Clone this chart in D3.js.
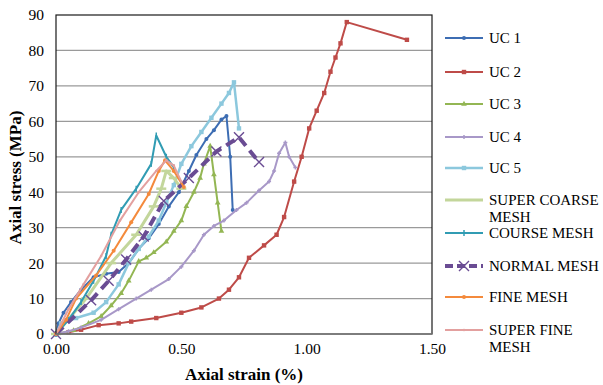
<!DOCTYPE html>
<html>
<head>
<meta charset="utf-8">
<script src="https://cdn.jsdelivr.net/npm/d3@7"></script>
<style>
  body { margin: 0; background: #fff; }
  svg text { font-family: 'Times New Roman', Times, 'Liberation Serif', serif; }
</style>
</head>
<body>
<div id="chart"></div>
<script>
// stress-strain data: [strain %, stress MPa]
const uc1 = [[0,0],[0.01,3],[0.03,6],[0.06,9],[0.1,12.5],[0.15,16],[0.2,17],[0.25,17.5],[0.29,20],[0.33,24],[0.37,27],[0.41,31],[0.45,36],[0.49,40],[0.53,46],[0.56,50.5],[0.6,55],[0.63,57.5],[0.66,60.5],[0.68,61.5],[0.695,50],[0.705,35]];
const uc2 = [[0,0],[0.05,0.5],[0.1,1.2],[0.17,2.5],[0.25,3],[0.3,3.5],[0.4,4.5],[0.5,6],[0.58,7.5],[0.65,10],[0.69,12.5],[0.73,16],[0.77,21.5],[0.83,25],[0.88,28],[0.91,33],[0.95,43],[0.98,50],[1.01,58],[1.04,63],[1.07,68],[1.095,74],[1.115,78],[1.135,82],[1.16,88],[1.4,83]];
const uc3 = [[0,0],[0.07,1],[0.13,3],[0.18,5],[0.22,8],[0.26,11.5],[0.29,15],[0.33,20.5],[0.36,21.5],[0.39,23],[0.44,26],[0.47,29],[0.5,32],[0.52,36],[0.55,40],[0.575,44],[0.59,48],[0.615,53],[0.63,45],[0.645,37],[0.66,29]];
const uc4 = [[0,0],[0.05,0.8],[0.1,1.8],[0.18,4],[0.25,7],[0.32,10],[0.38,12.5],[0.45,15.5],[0.5,19],[0.55,23.5],[0.59,28],[0.63,30.5],[0.67,32],[0.72,35],[0.76,37],[0.81,40.5],[0.85,43],[0.87,46],[0.89,51],[0.915,54],[0.93,50],[0.955,47]];
const uc5 = [[0,0],[0.02,3],[0.08,4.5],[0.15,6],[0.2,9],[0.25,14],[0.29,20],[0.33,24],[0.37,27.5],[0.41,32],[0.44,37],[0.47,42],[0.5,48],[0.54,53],[0.58,57],[0.62,61],[0.66,65],[0.69,68],[0.71,71],[0.73,58]];
const superCoarse = [[0,0],[0.12,10],[0.22,20],[0.32,28],[0.39,36],[0.42,41],[0.44,46],[0.47,44],[0.5,41]];
const courseMesh = [[0,0],[0.05,4],[0.1,9],[0.15,15],[0.2,22],[0.22,28],[0.26,35],[0.32,41],[0.38,48],[0.4,56],[0.44,50],[0.47,47]];
const normalMesh = [[0,0],[0.14,9.5],[0.21,15],[0.28,21],[0.35,27.5],[0.43,37.5],[0.53,44],[0.64,51.5],[0.73,55.5],[0.81,48.5]];
const fineMesh = [[0,0],[0.04,4],[0.08,10],[0.16,16.5],[0.23,23.5],[0.3,31.5],[0.37,39.5],[0.41,46],[0.435,49],[0.47,46],[0.51,41.5]];
const superFine = [[0,0],[0.05,7],[0.11,14],[0.18,22],[0.255,32],[0.33,40],[0.4,46],[0.44,49],[0.47,47.5],[0.5,43]];

const seriesNames = ['UC 1','UC 2','UC 3','UC 4','UC 5','SUPER COARSE MESH','COURSE MESH','NORMAL MESH','FINE MESH','SUPER FINE MESH'];
const xTicks = [0, 0.5, 1.0, 1.5];
const yTicks = [0,10,20,30,40,50,60,70,80,90];

const series = [
  { name: seriesNames[0], data: uc1, color: '#3d6db3', w: 2, marker: 'circle' },
  { name: seriesNames[1], data: uc2, color: '#be4b48', w: 2, marker: 'square' },
  { name: seriesNames[2], data: uc3, color: '#93b653', w: 2, marker: 'triangle' },
  { name: seriesNames[3], data: uc4, color: '#a898c8', w: 2, marker: 'plus' },
  { name: seriesNames[4], data: uc5, color: '#8cc8dd', w: 2.5, marker: 'square' },
  { name: seriesNames[5], data: superCoarse, color: '#c3d69b', w: 3, marker: 'hbar' },
  { name: seriesNames[6], data: courseMesh, color: '#319cb3', w: 2, marker: 'vbar' },
  { name: seriesNames[7], data: normalMesh, color: '#6a4c93', w: 4, marker: 'x', dash: '10,6' },
  { name: seriesNames[8], data: fineMesh, color: '#f48a3c', w: 2, marker: 'circle' },
  { name: seriesNames[9], data: superFine, color: '#e3a09f', w: 2, marker: 'dot' }
];

const width = 603, height = 385;
const margin = { top: 15, left: 56, right: 171, bottom: 51 };
const iw = width - margin.left - margin.right;
const ih = height - margin.top - margin.bottom;

const svg = d3.select('#chart').append('svg')
  .attr('width', width).attr('height', height);

const x = d3.scaleLinear().domain([0, 1.5]).range([0, iw]);
const y = d3.scaleLinear().domain([0, 90]).range([ih, 0]);

const g = svg.append('g').attr('transform', `translate(${margin.left},${margin.top})`);

// gridlines
g.append('g').selectAll('line').data(yTicks.slice(1, -1)).enter().append('line')
  .attr('x1', 0).attr('x2', iw)
  .attr('y1', d => y(d)).attr('y2', d => y(d))
  .style('stroke', '#9a9a9a').style('stroke-width', 1.2);

// axes
const yAxis = g.append('g')
  .call(d3.axisLeft(y).tickValues(yTicks).tickSize(0).tickPadding(12));
const xAxis = g.append('g').attr('transform', `translate(0,${ih})`)
  .call(d3.axisBottom(x).tickValues(xTicks).tickFormat(d3.format('.2f')).tickSize(0).tickPadding(9));
[xAxis, yAxis].forEach(a => {
  a.attr('font-size', 15.5);
  a.select('.domain').remove();
  a.selectAll('text').attr('fill', '#000');
});

const line = d3.line().x(d => x(d[0])).y(d => y(d[1]));

function drawMarker(sel, type, color) {
  const s = 2.2;
  if (type === 'circle' || type === 'dot') {
    sel.append('circle').attr('r', type === 'dot' ? 1.3 : 2).style('fill', color);
  } else if (type === 'square') {
    sel.append('rect').attr('x', -s).attr('y', -s).attr('width', 2 * s).attr('height', 2 * s).style('fill', color);
  } else if (type === 'triangle') {
    sel.append('path').attr('d', d3.symbol(d3.symbolTriangle, 14)()).style('fill', color);
  } else if (type === 'plus') {
    sel.append('path').attr('d', 'M-2,0H2M0,-2V2').style('stroke', color).style('stroke-width', 1.5);
  } else if (type === 'hbar') {
    sel.append('path').attr('d', 'M-5,0H5').style('stroke', color).style('stroke-width', 2.5);
  } else if (type === 'vbar') {
    sel.append('path').attr('d', 'M0,-3V3').style('stroke', color).style('stroke-width', 1.5);
  } else if (type === 'x') {
    sel.append('path').attr('d', 'M-5,-5L5,5M-5,5L5,-5').style('stroke', color).style('stroke-width', 1.4);
  }
}

series.forEach(s => {
  const sg = g.append('g');
  sg.append('path').datum(s.data)
    .attr('d', line)
    .style('fill', 'none')
    .style('stroke', s.color)
    .style('stroke-width', s.w)
    .style('stroke-dasharray', s.dash || null)
    .style('stroke-linejoin', 'round');
  sg.selectAll('.m').data(s.data).enter().append('g')
    .attr('class', 'm')
    .attr('transform', d => `translate(${x(d[0])},${y(d[1])})`)
    .each(function() { drawMarker(d3.select(this), s.marker, s.color); });
});

// plot frame
g.append('rect').attr('x', 0).attr('y', 0).attr('width', iw).attr('height', ih)
  .style('fill', 'none').style('stroke', '#1a1a1a').style('stroke-width', 1.2);
g.append('line').attr('x1', 0).attr('x2', iw).attr('y1', ih).attr('y2', ih)
  .style('stroke', '#808080').style('stroke-width', 1.5);

// axis titles
svg.append('text')
  .attr('x', margin.left + iw / 2).attr('y', 380)
  .attr('text-anchor', 'middle')
  .attr('font-weight', 'bold').attr('font-size', 17)
  .text('Axial strain (%)');
svg.append('text')
  .attr('transform', `translate(21,${margin.top + ih / 2 + 3}) rotate(-90)`)
  .attr('text-anchor', 'middle')
  .attr('font-weight', 'bold').attr('font-size', 17)
  .text('Axial stress (MPa)');

// legend
const legendY = [38, 72, 104, 137, 168, 200, 233, 266, 297, 330];
const legend = svg.append('g');
series.forEach((s, i) => {
  const lg = legend.append('g').attr('transform', `translate(445,${legendY[i]})`);
  lg.append('line').attr('x1', 0).attr('x2', 38).attr('y1', 0).attr('y2', 0)
    .style('stroke', s.color).style('stroke-width', s.w)
    .style('stroke-dasharray', s.dash ? '8,4' : null);
  const mk = lg.append('g').attr('transform', 'translate(19,0)');
  if (s.marker !== 'hbar') drawMarker(mk, s.marker, s.color);
  let lines = [s.name];
  if (s.name === 'SUPER COARSE MESH') lines = ['SUPER COARSE', 'MESH'];
  if (s.name === 'SUPER FINE MESH') lines = ['SUPER FINE', 'MESH'];
  lines.forEach((t, j) => {
    lg.append('text').attr('x', 44).attr('y', 5 + j * 17)
      .attr('font-size', 15).text(t);
  });
});
</script>
</body>
</html>
